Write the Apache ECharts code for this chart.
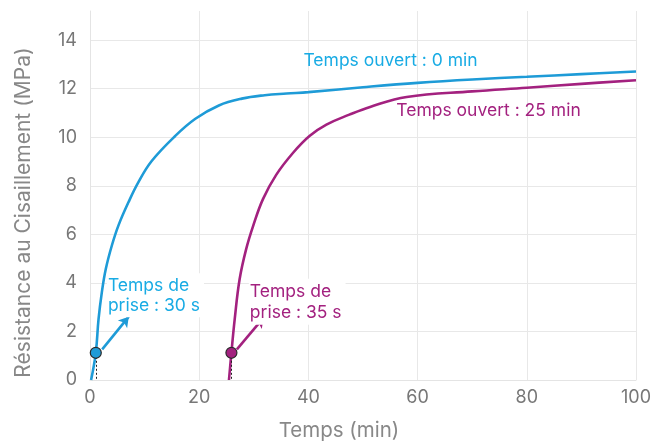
<!DOCTYPE html>
<html>
<head>
<meta charset="utf-8">
<script src="https://cdn.jsdelivr.net/npm/echarts@6/dist/echarts.min.js"></script>
<style>html,body{margin:0;padding:0;background:#fff}#c{width:654px;height:442px}</style>
</head>
<body>
<div id="c"></div>
<script>
// Data
var blueT = [0.2, 1.06, 1.56, 2.16, 2.89, 3.99, 5.2, 7.04, 8.87, 11.3, 15.6, 19.3, 23.6, 27.8, 32, 36, 40, 50, 60, 70, 80, 90, 100];
var blueV = [0, 1.12, 2.5, 3.6, 4.57, 5.53, 6.36, 7.32, 8.15, 9.02, 10.05, 10.76, 11.31, 11.59, 11.73, 11.8, 11.86, 12.06, 12.24, 12.38, 12.49, 12.6, 12.71];
var purpleT = [25.45, 25.9, 26.5, 27.4, 28.6, 29.9, 31.7, 34.1, 37.2, 40.2, 43.3, 47.5, 51.3, 58, 70, 80, 90, 100];
var purpleV = [0, 1.12, 2.5, 4.15, 5.39, 6.36, 7.46, 8.45, 9.36, 10.05, 10.52, 10.93, 11.25, 11.66, 11.89, 12.04, 12.2, 12.35];
var setPoints = { blue: [1.06, 1.12], purple: [25.9, 1.12] };
var seriesLabels = ['Temps ouvert : 0 min', 'Temps ouvert : 25 min'];
var setLabels = ['Temps de\nprise : 30 s', 'Temps de\nprise : 35 s'];
var xTicks = { min: 0, max: 100, interval: 20 };
var yTicks = { min: 0, max: 15.2, interval: 2 };

var BLUE = '#1e9bd7', BLUE_TXT = '#18abe4', PURPLE = '#a3217f', PURPLE_TXT = '#a3217f';
var FONT = 'Inter';

function zip(a, b) { return a.map(function (v, i) { return [v, b[i]]; }); }

function textPoint(coord, text, color, bg, lh) {
  return {
    coord: coord, symbol: 'rect', symbolSize: 1,
    itemStyle: { color: 'rgba(0,0,0,0)' },
    label: {
      show: true, position: 'right', distance: 0, formatter: text,
      color: color, fontSize: 17.5, fontFamily: FONT, lineHeight: lh, align: 'left',
      backgroundColor: bg ? '#fff' : 'transparent', padding: bg ? [2, 4, 2, 1] : 0
    }
  };
}

function buildSeries(name, t, v, color, txtColor, pt, lbl, lblCoord, setLbl, setCoord, lh, arrowFrom, arrowTo) {
  return {
    name: name, type: 'line', data: zip(t, v), smooth: 0.4,
    showSymbol: false, lineStyle: { color: color, width: 2.6 }, z: 2,
    markLine: {
      silent: true, animation: false,
      data: [
        [{ coord: [pt[0], pt[1]], symbol: 'none', lineStyle: { color: '#222', type: [2, 2], width: 1 } },
         { coord: [pt[0], 0], symbol: 'none' }],
        [{ coord: arrowFrom, symbol: 'none', lineStyle: { color: color, type: 'solid', width: 2.6 } },
         { coord: arrowTo, symbol: 'arrow', symbolSize: [9, 10] }]
      ],
      label: { show: false }
    },
    markPoint: {
      silent: true, animation: false,
      data: [
        { coord: pt, symbol: 'circle', symbolSize: 11,
          itemStyle: { color: color, borderColor: '#2a2a2a', borderWidth: 1.2 }, label: { show: false } },
        textPoint(lblCoord, lbl, txtColor, false, 21),
        textPoint(setCoord, setLbl, txtColor, true, lh)
      ]
    }
  };
}

var chart = echarts.init(document.getElementById('c'));
chart.setOption({
  animation: false,
  grid: { left: 90, right: 18, top: 11, bottom: 62, outerBoundsMode: 'none' },
  xAxis: {
    type: 'value', min: xTicks.min, max: xTicks.max, interval: xTicks.interval,
    name: 'Temps (min)', nameLocation: 'middle', nameGap: 40,
    nameTextStyle: { color: '#888', fontSize: 20.5, fontFamily: FONT, padding: [0, 48, 0, 0] },
    axisLine: { show: true, lineStyle: { color: '#e4e4e4' } },
    axisTick: { show: false },
    axisLabel: { color: '#777', fontSize: 18, fontFamily: FONT, margin: 9 },
    splitLine: { show: true, lineStyle: { color: '#e8e8e8' } }
  },
  yAxis: {
    type: 'value', min: yTicks.min, max: yTicks.max, interval: yTicks.interval,
    name: 'Résistance au Cisaillement (MPa)', nameLocation: 'middle', nameGap: 56,
    nameTextStyle: { color: '#888', fontSize: 21, fontFamily: FONT, padding: [0, 34, 0, 0] },
    axisLine: { show: true, lineStyle: { color: '#e4e4e4' } },
    axisTick: { show: false },
    axisLabel: { color: '#777', fontSize: 18, fontFamily: FONT, margin: 13, showMaxLabel: false },
    splitLine: { show: true, showMaxLine: false, lineStyle: { color: '#e8e8e8' } }
  },
  series: [
    buildSeries('blue', blueT, blueV, BLUE, BLUE_TXT, setPoints.blue,
      seriesLabels[0], [39.0, 13.16], setLabels[0], [3.0, 3.49], 20, [2.23, 1.26], [7.1, 2.61]),
    buildSeries('purple', purpleT, purpleV, PURPLE, PURPLE_TXT, setPoints.purple,
      seriesLabels[1], [56.0, 11.1], setLabels[1], [29.0, 3.22], 21, [26.9, 1.26], [31.8, 2.57])
  ]
});
</script>
</body>
</html>
